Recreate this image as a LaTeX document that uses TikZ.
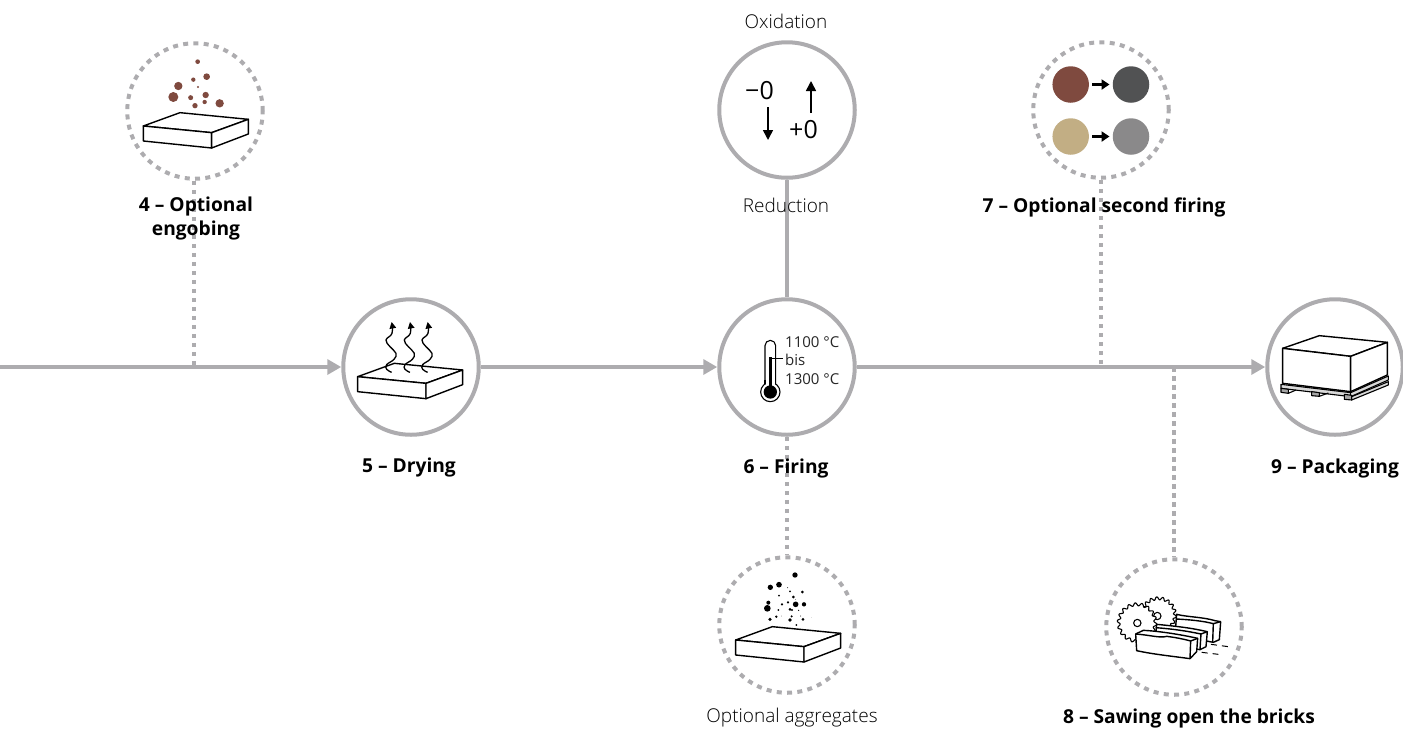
\documentclass[tikz,border=0pt]{standalone}
\usepackage{fontspec}
\setmainfont{Open Sans}
\newfontfamily\lightf{Open Sans Light}
\usetikzlibrary{arrows.meta}
\definecolor{flow}{HTML}{ADACAF}
\tikzset{
  stage/.style={circle,draw=flow,line width=4pt,minimum size=135.5pt,inner sep=0pt,fill=white},
  optstage/.style={circle,draw=flow,line width=4pt,minimum size=135.5pt,inner sep=0pt,dash pattern=on 5pt off 5.3pt},
  flowline/.style={draw=flow,line width=4pt},
  flowarrow/.style={flowline,-{Triangle[length=14pt,width=15pt]}},
  optline/.style={draw=flow,line width=4pt,dash pattern=on 4.5pt off 4.5pt},
  steplabel/.style={font=\fontsize{19.2}{24}\selectfont\bfseries,align=center,inner sep=0pt},
  sidelabel/.style={font=\lightf\fontsize{19}{24}\selectfont,text=black,align=center,inner sep=0pt},
  templabel/.style={font=\fontsize{15}{18}\selectfont,text=black!85,inner sep=0pt,anchor=west},
  signlabel/.style={font=\fontsize{25}{28}\selectfont,inner sep=0pt},
  icon/.style={draw=black,line width=1.4pt,line join=round},
  thin icon/.style={draw=black,line width=1.1pt,line join=round},
  swatch/.style={circle,minimum size=36.5pt,inner sep=0pt},
  swatcharrow/.style={draw=black,line width=2.2pt,-{Triangle[length=8pt,width=10pt]},shorten <=3pt,shorten >=3pt},
  signarrow/.style={draw=black,line width=1.6pt,-{Triangle[length=10pt,width=10pt]}}
}
\newcommand{\brickshape}{%
  \filldraw[icon,fill=white] (0,0) -- (110,-40) -- (315,-20) -- (205,20) -- cycle;
  \filldraw[icon,fill=white] (0,0) -- (205,20) -- (205,66) -- (0,45) -- cycle;
  \filldraw[icon,fill=white] (205,20) -- (315,-20) -- (315,24) -- (205,66) -- cycle;
}
\begin{document}
\begin{tikzpicture}[x=1pt,y=-1pt]
\useasboundingbox (0,0) rectangle (1403,729);

% circles
\node[optstage] (n4) at (195,111) {};
\node[stage] (n5) at (411,367) {};
\node[stage] (n6) at (787,367) {};
\node[stage] (nox) at (787,110) {};
\node[optstage] (n7) at (1101,110) {};
\node[optstage] (nagg) at (787,625) {};
\node[optstage] (n8) at (1174,627) {};
\node[stage] (n9) at (1335,367) {};

% free ends and junctions
\coordinate (start) at (0,367);
\coordinate (j4) at (194,367);
\coordinate (j7) at (1101,367);
\coordinate (j8) at (1174,367);

% connectors
\draw[optline] (n4.south -| j4) -- (j4);
\draw[optline] (n7.south) -- (j7);
\draw[optline] (j8) -- (n8.north);
\draw[optline] (n6.south) -- (nagg.north);
\draw[flowline] (nox.south) -- (n6.north);
\draw[flowarrow] (start) -- (n5.west);
\draw[flowarrow] (n5.east) -- (n6.west);
\draw[flowarrow] (n6.east) -- (n9.west);

% labels
\node[steplabel] (l4) at (196,219) {4 – Optional\\engobing};
\node[steplabel] (l5) at (409,468) {5 – Drying};
\node[steplabel] (l6) at (786,469) {6 – Firing};
\node[steplabel] (l7) at (1104,207) {7 – Optional second firing};
\node[steplabel] (l8) at (1189,718) {8 – Sawing open the bricks};
\node[steplabel] (l9) at (1335,469) {9 – Packaging};
\node[sidelabel] (lox) at (786,21) {Oxidation};
\node[sidelabel] (lre) at (786,205) {Reduction};
\node[sidelabel] (lag) at (792,718) {Optional aggregates};

% icon 4: engobing
\begin{scope}[shift={(110,30)},x=.3333pt,y=-.3333pt]
  \begin{scope}[shift={(100,288)}]\brickshape\end{scope}
  \foreach \a/\b/\r in {263/95/7,290/140/10,250/149/6.5,205/168/12.5,264/171/3.5,190/201/15,242/203/7.5,287/195/9.5,284/216/6.5,255/227/8,329/220/12.5}
    \fill[fill={rgb,255:red,127;green,74;blue,63}] (\a,\b) circle[radius=\r];
\end{scope}

% icon 5: drying
\begin{scope}[shift={(330,290)},x=.3333pt,y=-.3333pt]
  \begin{scope}[shift={(83,260)}]\brickshape\end{scope}
  \foreach \d in {0,55,108}
    \draw[line width=1.3pt,-{Triangle[length=6.5pt,width=6.5pt]}] plot[smooth,tension=.7] coordinates {({\d+185},247) ({\d+170},238) ({\d+170},224) ({\d+192},208) ({\d+198},190) ({\d+180},170) ({\d+168},150) ({\d+186},130) ({\d+185},96)};
\end{scope}

% icon oxidation
\node[signlabel] (minus) at (759.5,91) {−0};
\node[signlabel] (plus) at (803.5,130) {+0};
\coordinate (da) at (768,107);
\coordinate (db) at (768,140);
\coordinate (ua) at (811,113);
\coordinate (ub) at (811,81);
\draw[signarrow] (da) -- (db);
\draw[signarrow] (ua) -- (ub);

% icon 6: thermometer
\begin{scope}[shift={(710,290)},x=.3333pt,y=-.3333pt]
  \draw[thin icon] (165,285) -- (165,167) arc[start angle=180,end angle=360,radius=16] -- (197,285);
  \filldraw[thin icon,fill=white] (181,306) circle[radius=29];
  \fill[white] (167,270) rectangle (195,295);
  \draw[thin icon] (165,270) -- (165,281) (197,270) -- (197,281);
  \fill[black] (181,306) circle[radius=20];
  \fill[black] (175.5,202) rectangle (186.5,300);
  \draw[black,line width=1pt] (186,205) -- (218,205);
\end{scope}
\node[templabel] (t1) at (785,342) {1100 °C};
\node[templabel] (t2) at (785,360) {bis};
\node[templabel] (t3) at (785,379) {1300 °C};

% icon 7: colours
\node[swatch,fill={rgb,255:red,127;green,74;blue,63}] (s1) at (1070.7,84.5) {};
\node[swatch,fill={rgb,255:red,81;green,82;blue,83}] (s2) at (1131,84.5) {};
\node[swatch,fill={rgb,255:red,194;green,174;blue,132}] (s3) at (1070.7,136.5) {};
\node[swatch,fill={rgb,255:red,138;green,137;blue,138}] (s4) at (1131,136.5) {};
\draw[swatcharrow] (s1) -- (s2);
\draw[swatcharrow] (s3) -- (s4);

% icon aggregates
\begin{scope}[shift={(710,550)},x=.3333pt,y=-.3333pt]
  \begin{scope}[shift={(77,270)}]\brickshape\end{scope}
  \foreach \a/\b/\r in {255/75/8,181/112/8,207/104/8.5,233/113/1.5,240/124/3,277/126/4.5,207/137/3,250/141/4.5,257/148/1,175/158/6,216/163/3.5,234/157/3.5,257/163/8.5,282/163/6.5,172/175/10,205/180/3,240/178/4.5,246/180/3.5,266/181/2,180/208/5.5,199/200/4,214/198/1,245/199/3.5,240/210/5.5,272/198/1.5,279/208/4.5,304/202/.5,259/225/3}
    \fill[black] (\a,\b) circle[radius=\r];
\end{scope}

% icon 8: saw
\begin{scope}[shift={(1100,555)},x=.3333pt,y=-.3333pt]
  \filldraw[thin icon,fill=white] plot[domain=0:360,samples=181,smooth] ({175+(50+4.5*sin(18*\x))*cos(\x)},{180+(50+4.5*sin(18*\x))*sin(\x)}) -- cycle;
  \filldraw[thin icon,fill=white] (172,183) circle[radius=11];
  \filldraw[thin icon,fill=white] plot[domain=0:360,samples=181,smooth] ({111+(55+4.5*sin(18*\x))*cos(\x)},{203+(55+4.5*sin(18*\x))*sin(\x)}) -- cycle;
  \filldraw[thin icon,fill=white] (112,204) circle[radius=11];
  % back log
  \filldraw[icon,fill=white] (230,178) .. controls (260,186) and (310,186) .. (345,197) -- (362,200) -- (358,254) -- (340,262) -- (225,240) -- cycle;
  \draw[icon] (228,192) .. controls (270,194) and (310,198) .. (340,206) -- (338,262);
  \draw[icon] (340,206) -- (362,200);
  % middle log
  \filldraw[icon,fill=white] (170,208) .. controls (230,214) and (270,218) .. (322,230) -- (318,275) -- (300,284) -- (165,262) -- cycle;
  \draw[icon] (167,218) .. controls (220,222) and (260,228) .. (303,237) -- (300,284);
  \draw[icon] (303,237) -- (322,230);
  % front log
  \filldraw[icon,fill=white] (107,237) -- (130,226) .. controls (170,228) and (230,236) .. (293,250) -- (290,290) -- (270,311) .. controls (220,304) and (160,298) .. (110,287) -- cycle;
  \draw[icon] (107,237) .. controls (150,240) and (180,250) .. (200,244) .. controls (230,248) and (250,252) .. (272,258) -- (270,311);
  \draw[icon] (272,258) -- (293,250);
  \draw[line width=1pt,dash pattern=on 6pt off 5pt] (333,268) -- (385,275);
  \draw[line width=1pt,dash pattern=on 6pt off 5pt] (305,292) -- (355,298);
\end{scope}

% icon 9: pallet
\begin{scope}[shift={(1260,295)},x=.3333pt,y=-.3333pt]
  \filldraw[icon,fill=white] (68,160) -- (178,122) -- (382,142) -- (272,184) -- cycle;
  \filldraw[icon,fill=white] (68,160) -- (272,184) -- (272,290) -- (68,265) -- cycle;
  \filldraw[icon,fill=white] (272,184) -- (382,142) -- (382,240) -- (272,290) -- cycle;
  \filldraw[thin icon,fill=black!15] (63,268) -- (272,293) -- (385,243) -- (385,255) -- (272,305) -- (63,280) -- cycle;
  \filldraw[thin icon,fill=black!15] (275,305) -- (385,260) -- (385,270) -- (275,315) -- cycle;
  \draw[thin icon] (272,293) -- (272,305);
  \filldraw[thin icon,fill=black!35] (63,280) -- (85,283) -- (85,295) -- (63,292) -- cycle;
  \filldraw[thin icon,fill=black!35] (155,290) -- (178,293) -- (178,304) -- (155,302) -- cycle;
  \filldraw[thin icon,fill=black!35] (253,298) -- (275,301) -- (275,315) -- (253,313) -- cycle;
  \draw[thin icon] (85,295) -- (108,285) (178,304) -- (205,294);
\end{scope}
\end{tikzpicture}
\end{document}
